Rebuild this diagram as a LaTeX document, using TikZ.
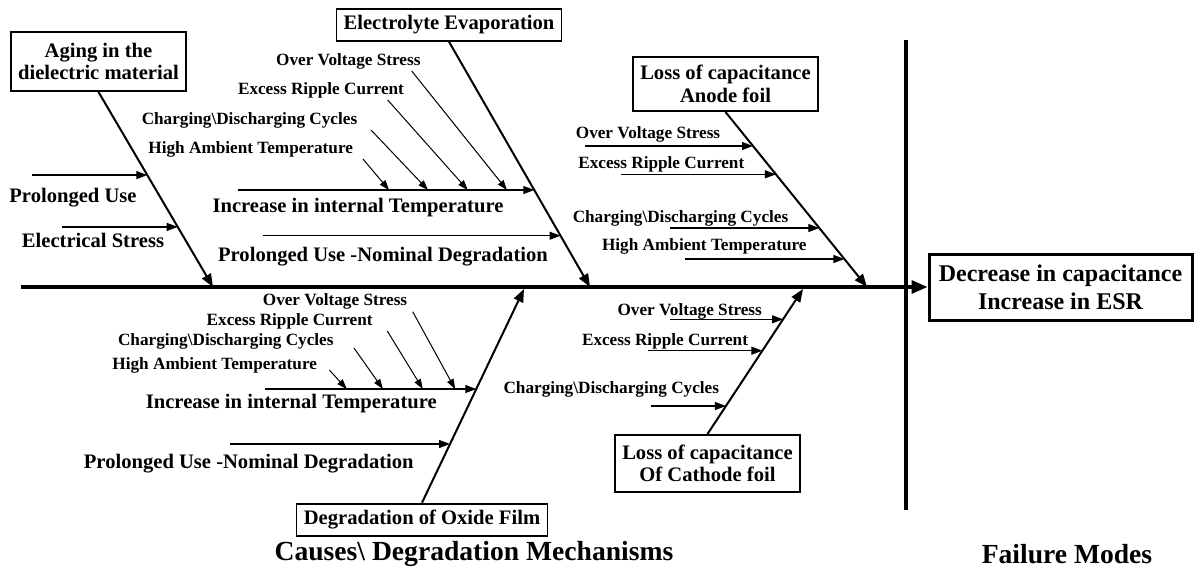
\documentclass[tikz,border=0pt]{standalone}
\usepackage{fontspec}
\setmainfont{Liberation Serif}
\usetikzlibrary{arrows.meta}

\begin{document}
\begin{tikzpicture}[
x=0.5pt, y=-0.5pt,
>={Triangle[length=5.5pt,width=4pt]},
box/.style={
draw,
line width=0.9pt,
align=center,
inner sep=0pt,
font=\fontsize{10.3}{11.3}\selectfont\bfseries
},
effectbox/.style={
draw,
line width=1.5pt,
align=center,
inner sep=0pt,
minimum width=131.5pt,
minimum height=33pt,
font=\fontsize{12}{14.2}\selectfont\bfseries
},
small/.style={inner sep=0pt, font=\fontsize{8.6}{10}\selectfont\bfseries},
mid/.style={inner sep=0pt, font=\fontsize{10.3}{11.3}\selectfont\bfseries},
caption/.style={inner sep=0pt, font=\fontsize{13.8}{16}\selectfont\bfseries},
spine/.style={draw, line width=1.6pt, -{Triangle[length=8pt,width=6.5pt]}},
divider/.style={draw, line width=1.8pt},
bone/.style={draw, line width=1pt, -{Triangle[length=6.5pt,width=5pt]}},
cause/.style={draw, line width=0.6pt, ->},
subcause/.style={draw, line width=0.5pt, -{Triangle[length=5pt,width=3.5pt]}}
]
\useasboundingbox (0,0) rectangle (1194,583);

% Spine and the points where the bones meet it
\coordinate (tail) at (20.7,287);
\coordinate (j1) at (213,287);
\coordinate (j2) at (590,287);
\coordinate (j3) at (867,287);
\coordinate (j4) at (524,289);
\coordinate (j5) at (803,289);
\coordinate (vtop) at (906,40);
\coordinate (vbot) at (906,510);

% Nodes
\node[box, minimum width=87.5pt, minimum height=29.5pt, anchor=south] (aging) at (98.5,92)
{Aging in the\\dielectric material};
\node[box, minimum width=112.5pt, minimum height=16pt, anchor=south] (evap) at (449,41.7)
{Electrolyte Evaporation};
\node[box, minimum width=92.5pt, minimum height=27pt, anchor=south] (anode) at (725.5,112)
{Loss of capacitance\\Anode foil};
\node[box, minimum width=125.5pt, minimum height=16pt, anchor=north] (oxide) at (422,502.7)
{Degradation of Oxide Film};
\node[box, minimum width=92.5pt, minimum height=28.5pt, anchor=north] (cathode) at (707.5,434)
{Loss of capacitance\\Of Cathode foil};
\node[effectbox] (effect) at (1060.5,287)
{Decrease in capacitance\\Increase in ESR};

% aging labels
\node[mid] (prolonged) at (73,198) {Prolonged Use};
\node[mid] (elecstress) at (93,240) {Electrical Stress};

% evaporation labels
\node[small] (ovs1) at (348.3,61) {Over Voltage Stress};
\node[small] (erc1) at (321,90.7) {Excess Ripple Current};
\node[small] (cdc1) at (249.5,120) {Charging\textbackslash Discharging Cycles};
\node[small] (hat1) at (250.7,149.5) {High Ambient Temperature};
\node[mid] (inct1) at (358,208) {Increase in internal Temperature};
\node[mid] (nom1) at (383,256.7) {Prolonged Use -Nominal Degradation};

% anode labels
\node[small] (ovs2) at (648,134.3) {Over Voltage Stress};
\node[small] (erc2) at (661.3,164.3) {Excess Ripple Current};
\node[small] (cdc2) at (680.5,218.3) {Charging\textbackslash Discharging Cycles};
\node[small] (hat2) at (704.3,246.7) {High Ambient Temperature};

% oxide labels
\node[small] (ovs3) at (335,301.7) {Over Voltage Stress};
\node[small] (erc3) at (289.7,321.7) {Excess Ripple Current};
\node[small] (cdc3) at (225.8,341.7) {Charging\textbackslash Discharging Cycles};
\node[small] (hat3) at (214.7,365.7) {High Ambient Temperature};
\node[mid] (inct3) at (291.3,404) {Increase in internal Temperature};
\node[mid] (nom3) at (248.8,463.3) {Prolonged Use -Nominal Degradation};

% cathode labels
\node[small] (ovs4) at (689.7,311.7) {Over Voltage Stress};
\node[small] (erc4) at (665,341) {Excess Ripple Current};
\node[small] (cdc4) at (611.3,389) {Charging\textbackslash Discharging Cycles};

% captions
\node[caption] (causes) at (474,554) {Causes\textbackslash{} Degradation Mechanisms};
\node[caption] (modes) at (1067,554) {Failure Modes};

% free ends of the cause arrows
\coordinate (pu-in) at (32,175);
\coordinate (es-in) at (62,227);
\coordinate (it1-in) at (238.3,190);
\coordinate (nd1-in) at (262.7,235.7);
\coordinate (ov2-in) at (585,146);
\coordinate (er2-in) at (621,174.3);
\coordinate (cd2-in) at (670,228);
\coordinate (ha2-in) at (685,259);
\coordinate (it3-in) at (265,389);
\coordinate (nd3-in) at (230,444);
\coordinate (ov4-in) at (670,319.3);
\coordinate (er4-in) at (648,350.7);
\coordinate (cd4-in) at (650.7,406);

% starts of the short slanted arrows
\coordinate (ov1-in) at (411.7,71);
\coordinate (er1-in) at (387.7,100);
\coordinate (cd1-in) at (371,130);
\coordinate (ha1-in) at (363,159);
\coordinate (ov3-in) at (412.7,311.7);
\coordinate (er3-in) at (387.3,331);
\coordinate (cd3-in) at (354,348);
\coordinate (ha3-in) at (329.3,370);

% Connections
\draw[spine] (tail) -- (effect.west);
\draw[divider] (vtop) -- (vbot);

% bones
\draw[bone] (aging.south) -- (j1)
coordinate[pos=0.426] (ag1) coordinate[pos=0.692] (ag2);
\draw[bone] (evap.south) -- (j2)
coordinate[pos=0.6046] (ev1) coordinate[pos=0.791] (ev2);
\draw[bone] (anode.south) -- (j3)
coordinate[pos=0.1943] (an1) coordinate[pos=0.356] (an2)
coordinate[pos=0.663] (an3) coordinate[pos=0.84] (an4);
\draw[bone] (oxide.north) -- (j4)
coordinate[pos=0.532] (ox1) coordinate[pos=0.2747] (ox2);
\draw[bone] (cathode.north) -- (j5)
coordinate[pos=0.791] (ca1) coordinate[pos=0.5745] (ca2) coordinate[pos=0.193] (ca3);

% aging branch
\draw[cause] (pu-in |- ag1) -- (ag1);
\draw[cause] (es-in |- ag2) -- (ag2);

% evaporation branch
\draw[cause] (it1-in |- ev1) -- (ev1)
coordinate[pos=0.9077] (t1a) coordinate[pos=0.7753] (t1b)
coordinate[pos=0.641] (t1c) coordinate[pos=0.5093] (t1d);
\draw[cause] (nd1-in |- ev2) -- (ev2);
\draw[subcause] (ov1-in) -- (t1a);
\draw[subcause] (er1-in) -- (t1b);
\draw[subcause] (cd1-in) -- (t1c);
\draw[subcause] (ha1-in) -- (t1d);

% anode branch
\draw[cause] (ov2-in |- an1) -- (an1);
\draw[cause] (er2-in |- an2) -- (an2);
\draw[cause] (cd2-in |- an3) -- (an3);
\draw[cause] (ha2-in |- an4) -- (an4);

% oxide branch
\draw[cause] (it3-in |- ox1) -- (ox1)
coordinate[pos=0.9] (t3a) coordinate[pos=0.747] (t3b)
coordinate[pos=0.558] (t3c) coordinate[pos=0.387] (t3d);
\draw[cause] (nd3-in |- ox2) -- (ox2);
\draw[subcause] (ov3-in) -- (t3a);
\draw[subcause] (er3-in) -- (t3b);
\draw[subcause] (cd3-in) -- (t3c);
\draw[subcause] (ha3-in) -- (t3d);

% cathode branch
\draw[cause] (ov4-in |- ca1) -- (ca1);
\draw[cause] (er4-in |- ca2) -- (ca2);
\draw[cause] (cd4-in |- ca3) -- (ca3);

\end{tikzpicture}
\end{document}
